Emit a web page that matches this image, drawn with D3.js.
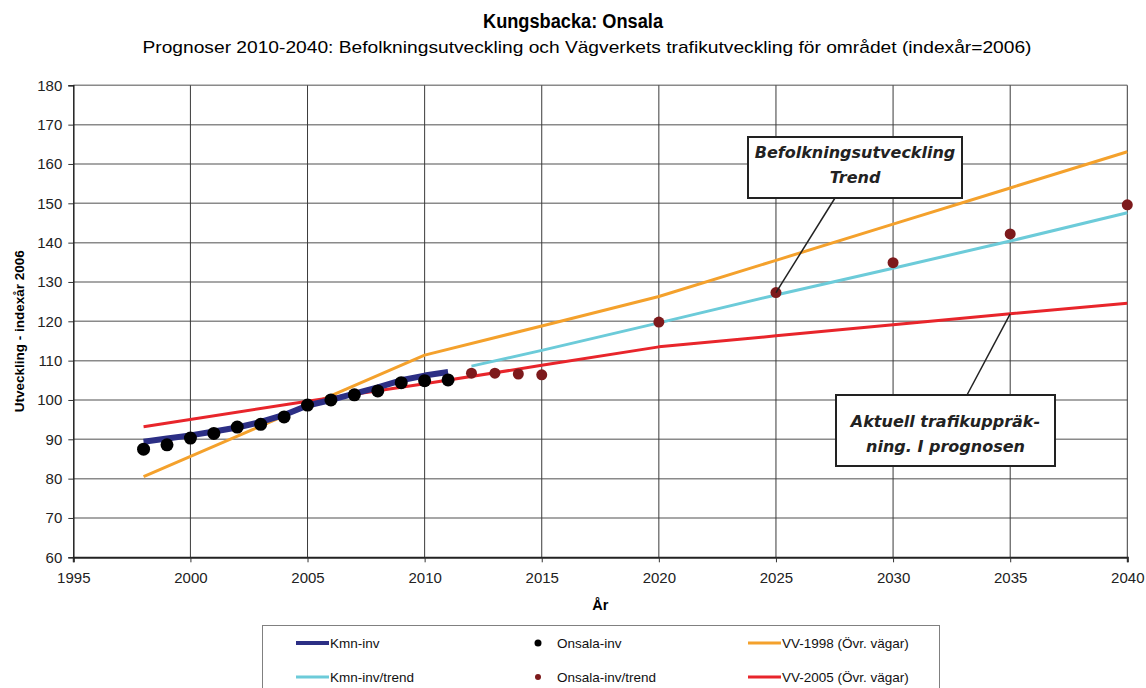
<!DOCTYPE html>
<html lang="sv">
<head>
  <meta charset="UTF-8">
  <script src="https://d3js.org/d3.v7.min.js"></script>
  <title>Kungsbacka: Onsala</title>
  <style>
    body { margin: 0; background: #fff; }
    svg { display: block; font-family: "Liberation Sans", Arial, sans-serif; }
    .grid-h line { stroke: #8a8a8a; stroke-width: 1.5; }
    .grid-v line { stroke: #3a3a3a; stroke-width: 1; }
    .tick-label { font-size: 15px; fill: #222; }
    .legend text { font-size: 13.5px; fill: #111; }
    .callout text { font-family: "DejaVu Sans", sans-serif; font-weight: bold; font-style: italic; font-size: 16px; fill: #222; }
  </style>
</head>
<body>
  <svg></svg>
  <script>
    const WIDTH = 1146
    const HEIGHT = 688

    // observed (1998-2011)
    const obsYears = [1998, 1999, 2000, 2001, 2002, 2003, 2004, 2005, 2006, 2007, 2008, 2009, 2010, 2011]
    const kmnInv = [89.4, 90.2, 91.0, 92.0, 93.0, 94.4, 96.2, 98.6, 100, 101.6, 103.2, 105.0, 106.2, 107.1]
    const onsalaInv = [87.5, 88.6, 90.3, 91.5, 93.1, 93.8, 95.7, 98.7, 100, 101.3, 102.3, 104.4, 104.9, 105.1]

    // trends / prognoses
    const kmnTrendYears = [2012, 2015, 2020, 2025, 2030, 2035, 2040]
    const kmnTrend = [108.6, 112.6, 119.6, 126.7, 133.5, 140.4, 147.6]
    const onsalaTrendYears = [2012, 2013, 2014, 2015, 2020, 2025, 2030, 2035, 2040]
    const onsalaTrend = [106.8, 106.8, 106.6, 106.4, 119.8, 127.3, 134.9, 142.2, 149.6]
    const vvYears = [1998, 2005, 2010, 2015, 2020, 2025, 2030, 2035, 2040]
    const vv1998 = [80.5, 98.5, 111.4, 118.8, 126.3, 135.5, 144.7, 153.9, 163.1]
    const vv2005 = [93.2, 99.7, 104.1, 108.8, 113.5, 116.3, 119.1, 121.9, 124.6]

    const xTicks = [1995, 2000, 2005, 2010, 2015, 2020, 2025, 2030, 2035, 2040]
    const yTicks = [60, 70, 80, 90, 100, 110, 120, 130, 140, 150, 160, 170, 180]

    const title = 'Kungsbacka: Onsala'
    const subtitle = 'Prognoser 2010-2040: Befolkningsutveckling och Vägverkets trafikutveckling för området (indexår=2006)'
    const xTitle = 'År'
    const yTitle = 'Utveckling - indexår 2006'

    const colors = {
      kmn: '#2c2f85',
      onsala: '#000000',
      vv1998: '#f4a12c',
      kmnTrend: '#6ccbd9',
      onsalaTrend: '#7d1a1c',
      vv2005: '#e8252b'
    }

    const legendItems = [
      { label: 'Kmn-inv', type: 'line', color: colors.kmn, width: 4 },
      { label: 'Onsala-inv', type: 'dot', color: colors.onsala, r: 3.5 },
      { label: 'VV-1998 (Övr. vägar)', type: 'line', color: colors.vv1998, width: 3 },
      { label: 'Kmn-inv/trend', type: 'line', color: colors.kmnTrend, width: 3 },
      { label: 'Onsala-inv/trend', type: 'dot', color: colors.onsalaTrend, r: 3 },
      { label: 'VV-2005 (Övr. vägar)', type: 'line', color: colors.vv2005, width: 3 }
    ]

    const svg = d3.select('svg')
      .attr('width', WIDTH)
      .attr('height', HEIGHT)

    const x = d3.scaleLinear().domain([1995, 2040]).range([73.3, 1127.3])
    const y = d3.scaleLinear().domain([60, 180]).range([557.3, 85.3])

    // titles (the original type is narrow, so squeeze it to the measured width)
    svg.append('text')
      .attr('x', 573).attr('y', 28)
      .attr('text-anchor', 'middle')
      .attr('textLength', 180).attr('lengthAdjust', 'spacingAndGlyphs')
      .style('font-size', '20px').style('font-weight', 'bold')
      .text(title)
    svg.append('text')
      .attr('x', 587).attr('y', 53)
      .attr('text-anchor', 'middle')
      .attr('textLength', 889).attr('lengthAdjust', 'spacingAndGlyphs')
      .style('font-size', '17px')
      .text(subtitle)

    // grid
    svg.append('g').attr('class', 'grid-h')
      .selectAll('line')
      .data(yTicks.slice(1))
      .enter().append('line')
      .attr('x1', x(1995)).attr('x2', x(2040))
      .attr('y1', (d) => y(d)).attr('y2', (d) => y(d))

    svg.append('g').attr('class', 'grid-v')
      .selectAll('line')
      .data(xTicks.slice(1))
      .enter().append('line')
      .attr('x1', (d) => x(d)).attr('x2', (d) => x(d))
      .attr('y1', y(180)).attr('y2', y(60))

    // axes
    const xAxis = d3.axisBottom(x).tickValues(xTicks).tickFormat(d3.format('d')).tickSize(5)
    const xMinor = d3.axisBottom(x).tickValues(d3.range(1995, 2041, 1)).tickFormat('').tickSize(3)
    const yAxis = d3.axisLeft(y).tickValues(yTicks).tickSize(5)
    const yMinor = d3.axisLeft(y).tickValues(d3.range(60, 181, 2)).tickFormat('').tickSize(3)

    const gx = svg.append('g').attr('transform', `translate(0,${y(60)})`)
    gx.call(xMinor)
    gx.call(xAxis)
    gx.selectAll('.domain').attr('stroke', '#222').attr('stroke-width', 2)
    gx.selectAll('.tick line').attr('stroke', '#333')
    gx.selectAll('text').attr('class', 'tick-label').attr('dy', '1.15em')

    const gy = svg.append('g').attr('transform', `translate(${x(1995)},0)`)
    gy.call(yMinor)
    gy.call(yAxis)
    gy.selectAll('.domain').attr('stroke', '#222').attr('stroke-width', 1.5)
    gy.selectAll('.tick line').attr('stroke', '#333')
    gy.selectAll('text').attr('class', 'tick-label').attr('x', -11)
    svg.selectAll('.tick text').attr('font-size', null).attr('font-family', null)

    svg.append('text')
      .attr('x', x(2017.5)).attr('y', 610)
      .attr('text-anchor', 'middle')
      .style('font-size', '14.5px').style('font-weight', 'bold')
      .text(xTitle)

    svg.append('text')
      .attr('transform', `translate(24,${(y(60) + y(180)) / 2 + 10}) rotate(-90)`)
      .attr('text-anchor', 'middle')
      .style('font-size', '13.5px').style('font-weight', 'bold')
      .text(yTitle)

    // series
    const line = d3.line().x((d) => x(d[0])).y((d) => y(d[1]))
    const zip = (xs, ys) => xs.map((v, i) => [v, ys[i]])

    const lines = [
      { data: zip(vvYears, vv1998), color: colors.vv1998, width: 3 },
      { data: zip(vvYears, vv2005), color: colors.vv2005, width: 3 },
      { data: zip(kmnTrendYears, kmnTrend), color: colors.kmnTrend, width: 3 },
      { data: zip(obsYears, kmnInv), color: colors.kmn, width: 6 }
    ]

    svg.append('g')
      .selectAll('path')
      .data(lines)
      .enter().append('path')
      .attr('d', (d) => line(d.data))
      .attr('fill', 'none')
      .attr('stroke', (d) => d.color)
      .attr('stroke-width', (d) => d.width)
      .attr('stroke-linejoin', 'round')

    svg.append('g')
      .selectAll('circle')
      .data(zip(obsYears, onsalaInv))
      .enter().append('circle')
      .attr('cx', (d) => x(d[0])).attr('cy', (d) => y(d[1]))
      .attr('r', 6.5)
      .attr('fill', colors.onsala)

    svg.append('g')
      .selectAll('circle')
      .data(zip(onsalaTrendYears, onsalaTrend))
      .enter().append('circle')
      .attr('cx', (d) => x(d[0])).attr('cy', (d) => y(d[1]))
      .attr('r', 5.5)
      .attr('fill', colors.onsalaTrend)

    // callouts
    const callouts = [
      { lines: ['Befolkningsutveckling', 'Trend'], box: [748, 137, 214, 61], textY: 158, from: [835, 198], to: [2025, onsalaTrend[onsalaTrendYears.indexOf(2025)]] },
      { lines: ['Aktuell trafikuppräk-', 'ning. I prognosen'], box: [836, 395, 219, 71], textY: 427, from: [967, 395], to: [2035, vv2005[vvYears.indexOf(2035)]] }
    ]

    const co = svg.append('g').attr('class', 'callout')
      .selectAll('g')
      .data(callouts)
      .enter().append('g')

    co.append('line')
      .attr('x1', (d) => d.from[0]).attr('y1', (d) => d.from[1])
      .attr('x2', (d) => x(d.to[0])).attr('y2', (d) => y(d.to[1]))
      .attr('stroke', '#222').attr('stroke-width', 1.5)

    co.append('rect')
      .attr('x', (d) => d.box[0]).attr('y', (d) => d.box[1])
      .attr('width', (d) => d.box[2]).attr('height', (d) => d.box[3])
      .attr('fill', '#fff').attr('stroke', '#222').attr('stroke-width', 2)

    co.each(function (d) {
      const g = d3.select(this)
      const cx = d.box[0] + d.box[2] / 2
      d.lines.forEach((t, i) => {
        g.append('text')
          .attr('x', cx)
          .attr('y', d.textY + i * 25)
          .attr('text-anchor', 'middle')
          .text(t)
      })
    })

    // legend
    const legend = svg.append('g').attr('class', 'legend')
    legend.append('rect')
      .attr('x', 262.5).attr('y', 625.5)
      .attr('width', 677).attr('height', 80)
      .attr('fill', '#fff').attr('stroke', '#808080').attr('stroke-width', 1)

    const colX = [296, 538, 748]
    const rowY = [643, 677]
    const item = legend.selectAll('g.item')
      .data(legendItems)
      .enter().append('g')
      .attr('class', 'item')
      .attr('transform', (d, i) => `translate(${colX[i % 3]},${rowY[Math.floor(i / 3)]})`)

    item.filter((d) => d.type === 'line').append('line')
      .attr('x1', 0).attr('x2', 33)
      .attr('stroke', (d) => d.color)
      .attr('stroke-width', (d) => d.width)
    item.filter((d) => d.type === 'dot').append('circle')
      .attr('r', (d) => d.r)
      .attr('fill', (d) => d.color)

    item.append('text')
      .attr('x', (d) => d.type === 'line' ? 34 : 19)
      .attr('dy', '0.35em')
      .text((d) => d.label)
  </script>
</body>
</html>
